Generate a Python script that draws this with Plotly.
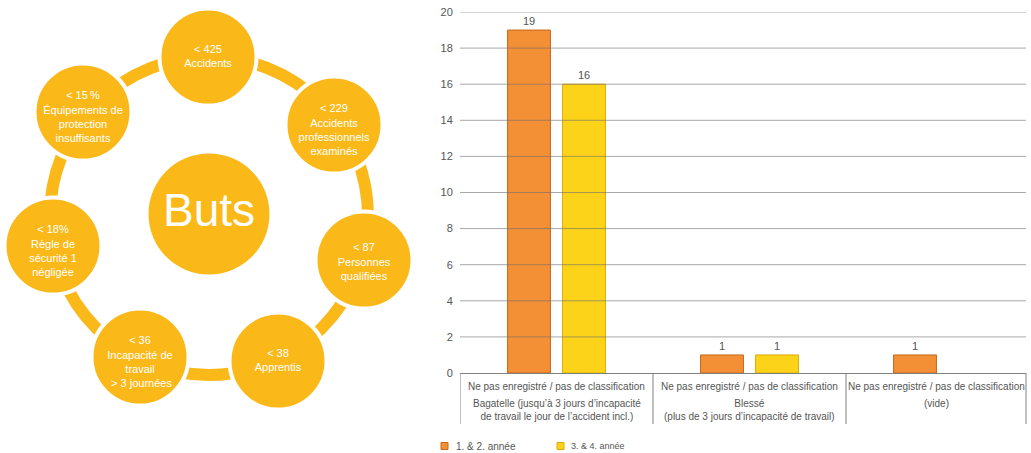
import plotly.graph_objects as go

# ---------------- data ----------------
cat_top = ["Ne pas enregistré / pas de classification",
           "Ne pas enregistré / pas de classification",
           "Ne pas enregistré / pas de classification"]
cat_sub = ["Bagatelle (jusqu’à 3 jours d’incapacité<br>de travail le jour de l’accident incl.)",
           "Blessé<br>(plus de 3 jours d’incapacité de travail)",
           "(vide)"]
series_names = ["1. & 2. année", "3. & 4. année"]
values_12 = [19, 1, 1]
values_34 = [16, 1, None]
y_ticks = [0, 2, 4, 6, 8, 10, 12, 14, 16, 18, 20]

center_label = "Buts"
node_labels = ["< 425<br>Accidents",
               "< 229<br>Accidents<br>professionnels<br>examinés",
               "< 87<br>Personnes<br>qualifiées",
               "< 38<br>Apprentis",
               "< 36<br>Incapacité de<br>travail<br> > 3 journées",
               "< 18%<br>Règle de<br>sécurité 1<br>négligée",
               "< 15\u2009%<br>Équipements de<br>protection<br>insuffisants"]

# ---------------- layout constants ----------------
W, H = 1031, 453
FONT = "Liberation Sans, Arial, sans-serif"
ORANGE, ORANGE_EDGE = "#F39035", "#C9661C"
YELLOW, YELLOW_EDGE = "#FDD319", "#D9AE08"
GOLD = "#FBB919"
TXT = "#555555"

def py(p):  # pixel row -> paper y
    return 1 - p / H

plot_l, plot_r, plot_t, plot_b = 460, 1026, 12, 373
group_px = 193.0
x_min = -0.5
x_max = x_min + (plot_r - plot_l) / group_px
xs = list(range(len(values_12)))

# diagram geometry (pixels)
node_cx = [208, 334, 364, 278, 140, 53, 83]
node_cy = [57, 125, 260, 361, 357, 246, 112]
ring_cx, ring_cy, ring_r = 209, 216, 159
center_xy = (209, 214)
text_shift = {2: 0, 3: 3, 4: 6}

# legend geometry (pixels)
leg_sq_x = [444.5, 560.5]
leg_tx_x = [455, 570]
leg_y = 446
leg_size = [10, 9]

fig = go.Figure()

# ---------------- bar chart ----------------
fig.add_trace(go.Bar(
    x=xs, y=values_12, name=series_names[0], showlegend=False,
    marker=dict(color=ORANGE, line=dict(color=ORANGE_EDGE, width=1)),
    text=[str(v) if v is not None else "" for v in values_12],
    textposition="outside", cliponaxis=False,
    textfont=dict(size=11, color=TXT, family=FONT),
    xaxis="x", yaxis="y", hoverinfo="skip"))
fig.add_trace(go.Bar(
    x=xs, y=values_34, name=series_names[1], showlegend=False,
    marker=dict(color=YELLOW, line=dict(color=YELLOW_EDGE, width=1)),
    text=[str(v) if v is not None else "" for v in values_34],
    textposition="outside", cliponaxis=False,
    textfont=dict(size=11, color=TXT, family=FONT),
    xaxis="x", yaxis="y", hoverinfo="skip"))

# ---------------- diagram ----------------
shapes = [dict(type="circle", xref="x2", yref="y2",
               x0=ring_cx - ring_r, x1=ring_cx + ring_r,
               y0=ring_cy - ring_r, y1=ring_cy + ring_r,
               line=dict(color=GOLD, width=12), layer="below")]

fig.add_trace(go.Scatter(
    x=[center_xy[0]], y=[center_xy[1]], mode="markers+text",
    marker=dict(size=121, color=GOLD, line=dict(width=0)),
    text=[center_label], textposition="middle center",
    textfont=dict(size=46, color="white", family=FONT),
    xaxis="x2", yaxis="y2", showlegend=False, hoverinfo="skip", cliponaxis=False))
fig.add_trace(go.Scatter(
    x=node_cx, y=node_cy, mode="markers",
    marker=dict(size=97, color=GOLD, line=dict(color="white", width=4)),
    xaxis="x2", yaxis="y2", showlegend=False, hoverinfo="skip", cliponaxis=False))
fig.add_trace(go.Scatter(
    x=node_cx,
    y=[cy + text_shift.get(lbl.count("<br>") + 1, 0) for cy, lbl in zip(node_cy, node_labels)],
    mode="text", text=node_labels, textposition="middle center",
    textfont=dict(size=11, color="white", family=FONT),
    xaxis="x2", yaxis="y2", showlegend=False, hoverinfo="skip", cliponaxis=False))

# legend swatches (pixel overlay axis)
fig.add_trace(go.Scatter(
    x=leg_sq_x, y=[leg_y, leg_y], mode="markers",
    marker=dict(symbol="square", size=7, color=[ORANGE, YELLOW],
                line=dict(color=[ORANGE_EDGE, YELLOW_EDGE], width=1)),
    xaxis="x2", yaxis="y2", showlegend=False, hoverinfo="skip", cliponaxis=False))

# gridlines drawn above the bars
for t in y_ticks[1:]:
    shapes.append(dict(type="line", xref="x domain", yref="y", x0=0, x1=1, y0=t, y1=t,
                       line=dict(color="rgba(110,110,110,0.6)", width=1), layer="above"))

# category separators
sep_y0, sep_y1 = py(plot_b), py(424)
for i in range(len(xs)):
    shapes.append(dict(type="line", xref="x", yref="paper", x0=i - 0.5, x1=i - 0.5,
                       y0=sep_y0, y1=sep_y1, line=dict(color="#808080", width=1)))
shapes.append(dict(type="line", xref="x domain", yref="paper", x0=1, x1=1,
                   y0=sep_y0, y1=sep_y1, line=dict(color="#808080", width=1)))

# category labels
annotations = []
for i in xs:
    lo, hi = max(i - 0.5, x_min), min(i + 0.5, x_max)
    cx = (lo + hi) / 2
    annotations.append(dict(x=cx, y=py(386), xref="x", yref="paper", text=cat_top[i],
                            showarrow=False, xanchor="center", yanchor="middle",
                            font=dict(size=10, color=TXT, family=FONT)))
    annotations.append(dict(x=cx, y=py(396), xref="x", yref="paper", text=cat_sub[i],
                            showarrow=False, xanchor="center", yanchor="top",
                            font=dict(size=10, color=TXT, family=FONT)))

# legend labels
for name, tx, fs in zip(series_names, leg_tx_x, leg_size):
    annotations.append(dict(x=tx, y=leg_y, xref="x2", yref="y2", text=name,
                            showarrow=False, xanchor="left", yanchor="middle",
                            borderpad=0, font=dict(size=fs, color=TXT, family=FONT)))

fig.update_layout(
    width=W, height=H,
    margin=dict(l=0, r=0, t=0, b=0, pad=0, autoexpand=False),
    paper_bgcolor="white", plot_bgcolor="rgba(0,0,0,0)",
    barmode="group", bargap=0.43, bargroupgap=0.22,
    font=dict(family=FONT, color=TXT),
    showlegend=False,
    xaxis=dict(domain=[plot_l / W, plot_r / W], range=[x_min, x_max],
               showticklabels=False, showgrid=False, zeroline=False,
               showline=True, linecolor="#808080", linewidth=1, ticks="",
               fixedrange=True),
    yaxis=dict(domain=[py(plot_b), py(plot_t)], range=[0, 20],
               tickvals=y_ticks, showgrid=False, zeroline=False, showline=False,
               ticks="outside", ticklen=4, tickcolor="rgba(0,0,0,0)",
               tickfont=dict(size=11, color=TXT, family=FONT), fixedrange=True),
    xaxis2=dict(domain=[0, 1], range=[0, W], visible=False, fixedrange=True),
    yaxis2=dict(domain=[0, 1], range=[H, 0], visible=False, anchor="x2", fixedrange=True),
    shapes=shapes, annotations=annotations,
)

fig.write_html("out.html", config={"displayModeBar": False, "staticPlot": True},
               post_script="document.body.style.margin='0';document.body.style.overflow='hidden';")
